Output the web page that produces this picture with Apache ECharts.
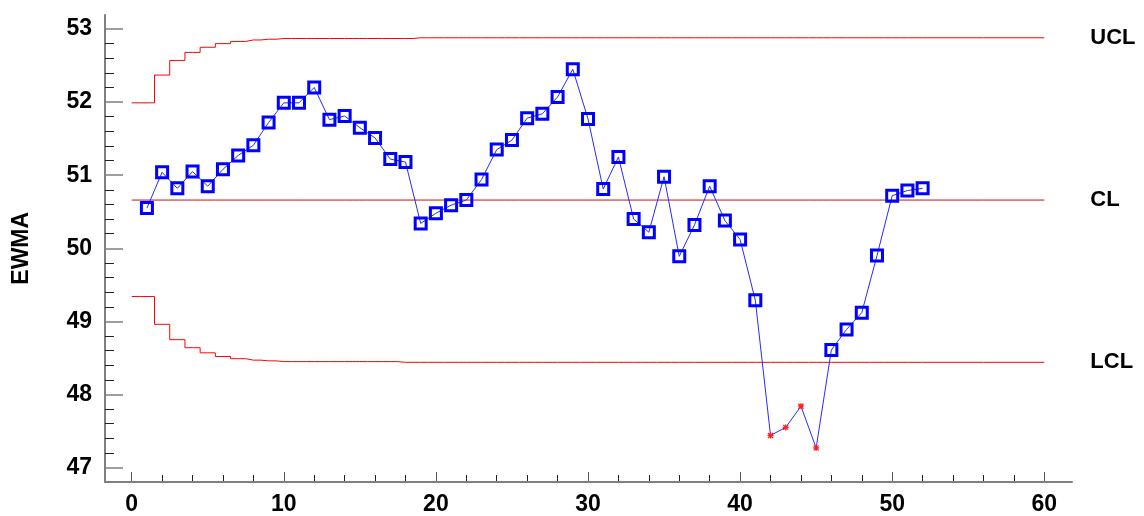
<!DOCTYPE html>
<html>
<head>
<meta charset="utf-8">
<title>EWMA Chart</title>
<script src="https://cdn.jsdelivr.net/npm/echarts@6/dist/echarts.min.js"></script>
<style>
  html, body { margin: 0; padding: 0; background: #fff; }
  #main { width: 1144px; height: 516px; }
</style>
</head>
<body>
<div id="main"></div>
<script>
// EWMA 值 (样本 1..52)
var ewmaValues = [
  50.55, 51.04, 50.82, 51.05, 50.85, 51.08, 51.27, 51.41, 51.72, 51.99,
  51.99, 52.20, 51.76, 51.81, 51.65, 51.51, 51.22, 51.18, 50.34, 50.48,
  50.59, 50.66, 50.94, 51.35, 51.48, 51.78, 51.84, 52.07, 52.45, 51.77,
  50.81, 51.25, 50.40, 50.22, 50.98, 49.89, 50.32, 50.85, 50.38, 50.12,
  49.29, 47.44, 47.55, 47.84, 47.27, 48.61, 48.89, 49.12, 49.90, 50.72,
  50.79, 50.82
];
// 失控点 (样本号)
var outOfControl = [42, 43, 44, 45];

// 控制限
var uclValues = [
  51.99, 52.37, 52.57, 52.68, 52.75, 52.80, 52.83, 52.85, 52.86, 52.87,
  52.87, 52.87, 52.87, 52.87, 52.87, 52.87, 52.87, 52.87, 52.88, 52.88,
  52.88, 52.88, 52.88, 52.88, 52.88, 52.88, 52.88, 52.88, 52.88, 52.88,
  52.88, 52.88, 52.88, 52.88, 52.88, 52.88, 52.88, 52.88, 52.88, 52.88,
  52.88, 52.88, 52.88, 52.88, 52.88, 52.88, 52.88, 52.88, 52.88, 52.88,
  52.88, 52.88
];
var lclValues = [
  49.34, 48.96, 48.75, 48.64, 48.57, 48.52, 48.49, 48.47, 48.46, 48.45,
  48.45, 48.45, 48.45, 48.45, 48.45, 48.45, 48.45, 48.44, 48.44, 48.44,
  48.44, 48.44, 48.44, 48.44, 48.44, 48.44, 48.44, 48.44, 48.44, 48.44,
  48.44, 48.44, 48.44, 48.44, 48.44, 48.44, 48.44, 48.44, 48.44, 48.44,
  48.44, 48.44, 48.44, 48.44, 48.44, 48.44, 48.44, 48.44, 48.44, 48.44,
  48.44, 48.44
];
var clValue = 50.66;

// 坐标轴范围
var xMin = 0, xMax = 60, xStep = 10;
var yMin = 47, yMax = 53, yStep = 1;

var labelFont = { color: '#000', fontSize: 23, fontWeight: 'bold', fontFamily: 'Liberation Sans, Arial, sans-serif' };
var starPath = 'path://M0,0L10,10M10,0L0,10M5,-1L5,11M-1,5L11,5';

// 控制限数据 (两端延伸到 x 轴范围)
function limitData(arr) {
    var d = [[xMin, arr[0]]];
    for (var i = 0; i < arr.length; i++) d.push([i + 1, arr[i]]);
    d.push([xMax, arr[arr.length - 1]]);
    return d;
}
var clArr = ewmaValues.map(function () { return clValue; });

// EWMA 点
var ewmaData = ewmaValues.map(function (v, i) {
    var n = i + 1;
    if (outOfControl.indexOf(n) >= 0) {
        return {
            value: [n, v],
            symbol: starPath,
            symbolSize: 6,
            itemStyle: { color: 'rgba(0,0,0,0)', borderColor: '#ff2020', borderWidth: 1.3 }
        };
    }
    return [n, v];
});

function limitSeries(name, data, color) {
    return {
        name: name,
        type: 'line',
        xAxisIndex: 0,
        yAxisIndex: 0,
        step: 'middle',
        showSymbol: false,
        symbol: 'none',
        silent: true,
        data: data,
        lineStyle: { color: color, width: 1 },
        endLabel: {
            show: true,
            formatter: name,
            distance: 46,
            color: '#000',
            fontSize: 22,
            fontWeight: 'bold',
            fontFamily: 'Liberation Sans, Arial, sans-serif'
        }
    };
}

var chart = echarts.init(document.getElementById('main'));
var option = {
    animation: false,
    backgroundColor: '#fff',
    grid: [
        // 数据区
        { left: 131.7, top: 29, width: 912.6, height: 439.3 },
        // 外框轴线
        { left: 105, top: 15, width: 967, height: 466.7 }
    ],
    xAxis: [
        {
            type: 'value', gridIndex: 0,
            min: xMin, max: xMax, interval: xStep,
            offset: 13.4,
            axisLine: { show: true, onZero: false, lineStyle: { color: 'rgba(0,0,0,0)' } },
            axisTick: { show: true, inside: true, length: 9, lineStyle: { color: '#555', width: 1 } },
            minorTick: { show: true, splitNumber: 5, length: 6, lineStyle: { color: '#222', width: 1 } },
            splitLine: { show: false },
            axisLabel: Object.assign({ margin: 12 }, labelFont)
        },
        {
            type: 'value', gridIndex: 1, min: 0, max: 1,
            axisLine: { show: true, onZero: false, lineStyle: { color: '#7f7f7f', width: 2 } },
            axisTick: { show: false }, axisLabel: { show: false }, splitLine: { show: false }
        }
    ],
    yAxis: [
        {
            type: 'value', gridIndex: 0,
            min: yMin, max: yMax, interval: yStep,
            offset: 26.7,
            name: 'EWMA',
            nameLocation: 'middle',
            nameGap: 72,
            nameTextStyle: labelFont,
            axisLine: { show: true, onZero: false, lineStyle: { color: 'rgba(0,0,0,0)' } },
            axisTick: { show: true, inside: true, length: 18, lineStyle: { color: '#7f7f7f', width: 1.5 } },
            minorTick: { show: true, splitNumber: 5, length: 9, lineStyle: { color: '#222', width: 1 } },
            splitLine: { show: false },
            axisLabel: Object.assign({ margin: 13 }, labelFont)
        },
        {
            type: 'value', gridIndex: 1, min: 0, max: 1,
            axisLine: { show: true, onZero: false, lineStyle: { color: '#7f7f7f', width: 2 } },
            axisTick: { show: false }, axisLabel: { show: false }, splitLine: { show: false }
        }
    ],
    series: [
        limitSeries('UCL', limitData(uclValues), '#ff0000'),
        limitSeries('CL', limitData(clArr), '#c81010'),
        limitSeries('LCL', limitData(lclValues), '#ff0000'),
        {
            name: 'EWMA',
            type: 'line',
            xAxisIndex: 0,
            yAxisIndex: 0,
            data: ewmaData,
            symbol: 'rect',
            symbolSize: 11,
            showAllSymbol: true,
            lineStyle: { color: '#2a2aff', width: 1 },
            itemStyle: { color: 'rgba(0,0,0,0)', borderColor: '#0000ff', borderWidth: 3 },
            z: 5
        }
    ]
};
chart.setOption(option);
</script>
</body>
</html>
